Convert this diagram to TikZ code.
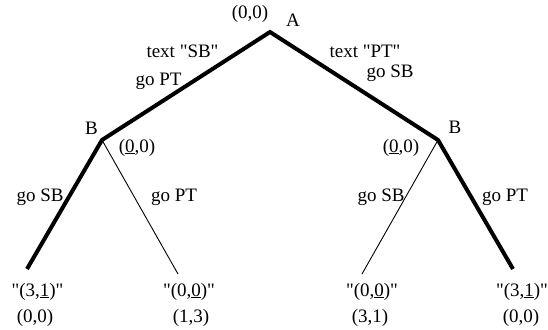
\documentclass[tikz,border=0pt]{standalone}
\usepackage{fontspec}
\setmainfont{Liberation Serif}[Ligatures=TeXOff]
\begin{document}
\begin{tikzpicture}[x=1pt,y=-1pt,
  lbl/.style={anchor=base,inner sep=0pt,font=\fontsize{19}{22}\selectfont},
  thickedge/.style={line width=4pt},
  thinedge/.style={line width=0.9pt}]
\useasboundingbox (0,0) rectangle (548,329);
% vertices
\coordinate (A) at (270,32);
\coordinate (BL) at (102,140);
\coordinate (BR) at (438,140);
\coordinate (L1) at (27,269);
\coordinate (L2) at (178,274);
\coordinate (L3) at (362,274);
\coordinate (L4) at (513,269);
% edges
\draw[thickedge] (L1) -- (BL) -- (A) -- (BR) -- (L4);
\draw[thinedge] (BL) -- (L2);
\draw[thinedge] (BR) -- (L3);
% labels top
\node[lbl] (pA) at (250,19) {(0,0)};
\node[lbl] (nA) at (293,27) {A};
\node[lbl] (tSB) at (182.5,58) {text "SB"};
\node[lbl] (gPT1) at (158.5,85) {go PT};
\node[lbl] (tPT) at (365,58) {text "PT"};
\node[lbl] (gSB1) at (390,77) {go SB};
\node[lbl] (nBL) at (91.5,134) {B};
\node[lbl] (nBR) at (455,133) {B};
\node[lbl] (pBL) at (137,152) {(\underline{0},0)};
\node[lbl] (pBR) at (401,152) {(\underline{0},0)};
% labels lower edges
\node[lbl] (gSB2) at (40,201) {go SB};
\node[lbl] (gPT2) at (174,201) {go PT};
\node[lbl] (gSB3) at (381,201) {go SB};
\node[lbl] (gPT3) at (505,201) {go PT};
% leaves
\node[lbl] (q1) at (37.5,296) {"(3,\underline{1})"};
\node[lbl] (v1) at (35,322) {(0,0)};
\node[lbl] (q2) at (189,296) {"(0,\underline{0})"};
\node[lbl] (v2) at (191,322) {(1,3)};
\node[lbl] (q3) at (372,296) {"(0,\underline{0})"};
\node[lbl] (v3) at (370,322) {(3,1)};
\node[lbl] (q4) at (522,296) {"(3,\underline{1})"};
\node[lbl] (v4) at (521,322) {(0,0)};
\end{tikzpicture}
\end{document}
